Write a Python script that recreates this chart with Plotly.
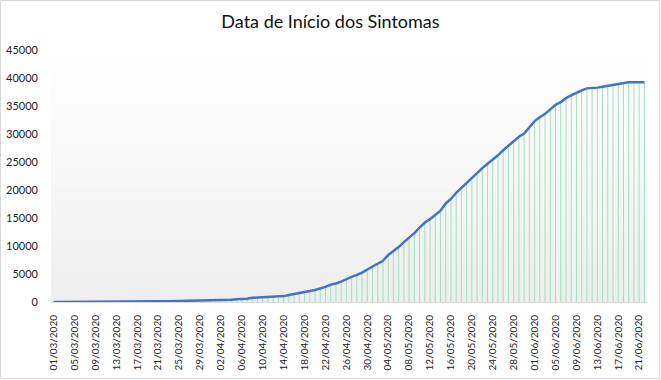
import pandas as pd
import plotly.graph_objects as go

# ---- data ----
dates = [d.strftime("%d/%m/%Y") for d in pd.date_range("2020-03-01", "2020-06-22", freq="D")]
casos = [
    0, 0, 0, 0, 0, 0, 0, 0, 0, 0,
    1, 2, 3, 5, 8, 12, 20, 40, 90, 110,
    120, 130, 140, 150, 200, 210, 220, 230, 240, 250,
    270, 350, 360, 380, 400, 500, 540, 580, 760, 790,
    820, 860, 950, 990, 1050, 1250, 1400, 1620, 1780, 1950,
    2150, 2420, 2700, 3100, 3300, 3650, 4150, 4500, 4850, 5250,
    5800, 6300, 6900, 7350, 8400, 9100, 9800, 10700, 11500, 12300,
    13300, 14200, 14800, 15600, 16300, 17600, 18400, 19500, 20400, 21200,
    22100, 23000, 23900, 24700, 25400, 26200, 27100, 27900, 28700, 29500,
    30100, 31200, 32300, 33000, 33600, 34400, 35200, 35700, 36400, 36900,
    37400, 37800, 38150, 38200, 38280, 38450, 38600, 38750, 38900, 39100,
    39250, 39250, 39250, 39250,
]
y_ticks = [0, 5000, 10000, 15000, 20000, 25000, 30000, 35000, 40000, 45000]
title_text = "Data de Início dos Sintomas"

# ---- layout geometry ----
W, H = 661, 380
ml, mr, mt, mb = 51, 14, 50, 78
pw, ph = W - ml - mr, H - mt - mb

fig = go.Figure()

# green drop lines
dx, dy = [], []
for d, v in zip(dates, casos):
    dx += [d, d, None]
    dy += [0, v, None]
fig.add_trace(go.Scatter(x=dx, y=dy, mode="lines",
                         line=dict(color="rgb(160,225,190)", width=1),
                         hoverinfo="skip", showlegend=False))
# main line
fig.add_trace(go.Scatter(x=dates, y=casos, mode="lines",
                         line=dict(color="#4472C4", width=2.5),
                         showlegend=False))

shapes = []
# gradient background of plot area
n = 60
for k in range(n):
    t = k / (n - 1)
    c = int(round(255 - (255 - 238) * t))
    shapes.append(dict(type="rect", xref="x domain", yref="y domain",
                       x0=0, x1=1, y0=1 - (k + 1) / n, y1=1 - k / n + 0.002,
                       fillcolor=f"rgb({c},{c},{c})", line=dict(width=0),
                       layer="below"))
# outer border
shapes.append(dict(type="rect", xref="paper", yref="paper",
                   x0=(0.5 - ml) / pw, x1=(W - 1.5 - ml) / pw,
                   y0=-(mb - 1.5) / ph, y1=1 + (mt - 0.5) / ph,
                   line=dict(color="#d9d9d9", width=1), fillcolor="rgba(0,0,0,0)"))

fig.update_layout(
    width=W, height=H,
    margin=dict(l=ml, r=mr, t=mt, b=mb, autoexpand=False),
    paper_bgcolor="white", plot_bgcolor="white",
    font=dict(family="Lato, 'Open Sans', sans-serif", color="#222"),
    title=dict(text=title_text, x=0.5, xanchor="center", xref="container",
               y=1 - 22 / H, yanchor="middle", yref="container",
               font=dict(size=18, color="#111", family="Lato, sans-serif")),
    shapes=shapes,
    showlegend=False,
)
fig.update_xaxes(type="category", categoryorder="array", categoryarray=dates,
                 range=[-0.5, len(dates) - 0.5], automargin=False,
                 tickmode="array", tickvals=dates[::4], ticktext=dates[::4],
                 tickangle=-90, tickfont=dict(size=10, color="#222"),
                 showgrid=False, zeroline=False, showline=True,
                 linecolor="#d9d9d9", linewidth=1, ticks="",
                 ticklabelstandoff=8)
fig.update_yaxes(range=[0, 45000], tickmode="array", tickvals=y_ticks,
                 ticktext=[str(v) for v in y_ticks], automargin=False,
                 tickfont=dict(size=11, color="#222"),
                 showgrid=False, zeroline=False, showline=False, ticks="",
                 ticklabelstandoff=12)

fig.write_html("out.html", config={"displayModeBar": False},
               post_script="document.body.style.margin='0px';document.body.style.overflow='hidden';")
